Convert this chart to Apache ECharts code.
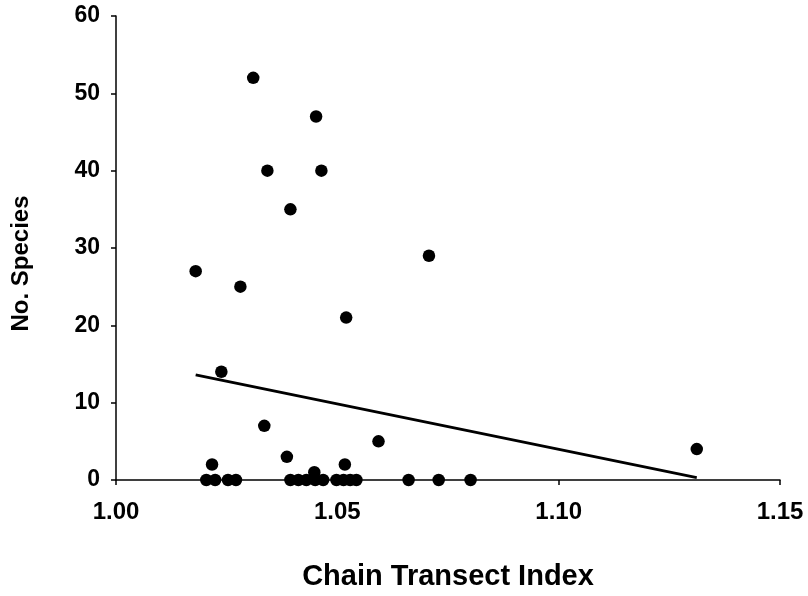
<!DOCTYPE html>
<html>
<head>
<meta charset="utf-8">
<script src="https://cdn.jsdelivr.net/npm/echarts@6/dist/echarts.min.js"></script>
<style>html,body{margin:0;padding:0;background:#fff}#c{width:808px;height:596px}</style>
</head>
<body>
<div id="c"></div>
<script>
// Chain Transect Index (x) vs No. Species (y)
const chainIndex = [
  1.0180, 1.0238, 1.0281, 1.0310, 1.0342, 1.0335, 1.0394, 1.0452, 1.0464, 1.0520,
  1.0593, 1.0707, 1.1312, 1.0217, 1.0386, 1.0448, 1.0517,
  1.0204, 1.0224, 1.0253, 1.0271, 1.0394, 1.0412, 1.0430, 1.0450, 1.0468, 1.0498,
  1.0514, 1.0529, 1.0543, 1.0661, 1.0729, 1.0801
];
const noSpecies = [
  27, 14, 25, 52, 40, 7, 35, 47, 40, 21,
  5, 29, 4, 2, 3, 1, 2,
  0, 0, 0, 0, 0, 0, 0, 0, 0, 0,
  0, 0, 0, 0, 0, 0
];
const trendX = [1.018, 1.1312];
const trendY = [13.6, 0.3];
const xTicks = ['1.00', '1.05', '1.10', '1.15'];
const yTicks = ['0', '10', '20', '30', '40', '50', '60'];

const points = chainIndex.map((x, i) => [x, noSpecies[i]]);
const trend = trendX.map((x, i) => [x, trendY[i]]);

const FONT = '"Liberation Sans", Arial, sans-serif';
const chart = echarts.init(document.getElementById('c'), null, {renderer: 'canvas'});
chart.setOption({
  animation: false,
  backgroundColor: '#fff',
  grid: {left: 116, right: 28, top: 16, bottom: 114, containLabel: false},
  xAxis: {
    type: 'value', min: 1.00, max: 1.15, interval: 0.05,
    name: 'Chain Transect Index', nameLocation: 'middle', nameGap: 82,
    nameTextStyle: {fontFamily: FONT, fontWeight: 'bold', fontSize: 29, color: '#000'},
    axisLine: {show: true, onZero: false, lineStyle: {color: '#000', width: 1.5}},
    axisTick: {show: true, inside: false, length: 5, lineStyle: {color: '#000', width: 1.5}},
    axisLabel: {
      margin: 20, fontFamily: FONT, fontWeight: 'bold', fontSize: 24, color: '#000',
      formatter: v => { const s = Number(v).toFixed(2); return xTicks.includes(s) ? s : ''; }
    },
    splitLine: {show: false}
  },
  yAxis: {
    type: 'value', min: 0, max: 60, interval: 10,
    name: 'No. Species', nameLocation: 'middle', nameGap: 83, nameRotate: 90,
    nameTextStyle: {fontFamily: FONT, fontWeight: 'bold', fontSize: 24, color: '#000', padding: [0, 31, 0, 0]},
    axisLine: {show: true, lineStyle: {color: '#000', width: 1.5}},
    axisTick: {show: true, inside: false, length: 5, lineStyle: {color: '#000', width: 1.5}},
    axisLabel: {
      margin: 16, fontFamily: FONT, fontWeight: 'bold', fontSize: 23, color: '#000',
      formatter: v => { const s = String(Math.round(v)); return yTicks.includes(s) ? s : ''; }
    },
    splitLine: {show: false}
  },
  series: [
    {
      type: 'line', data: trend, showSymbol: false, symbol: 'none',
      lineStyle: {color: '#000', width: 2.8, opacity: 1}, z: 2, silent: true
    },
    {
      type: 'scatter', data: points, symbol: 'circle', symbolSize: 12.5,
      itemStyle: {color: '#000', opacity: 1}, z: 3, silent: true
    }
  ]
});
</script>
</body>
</html>
